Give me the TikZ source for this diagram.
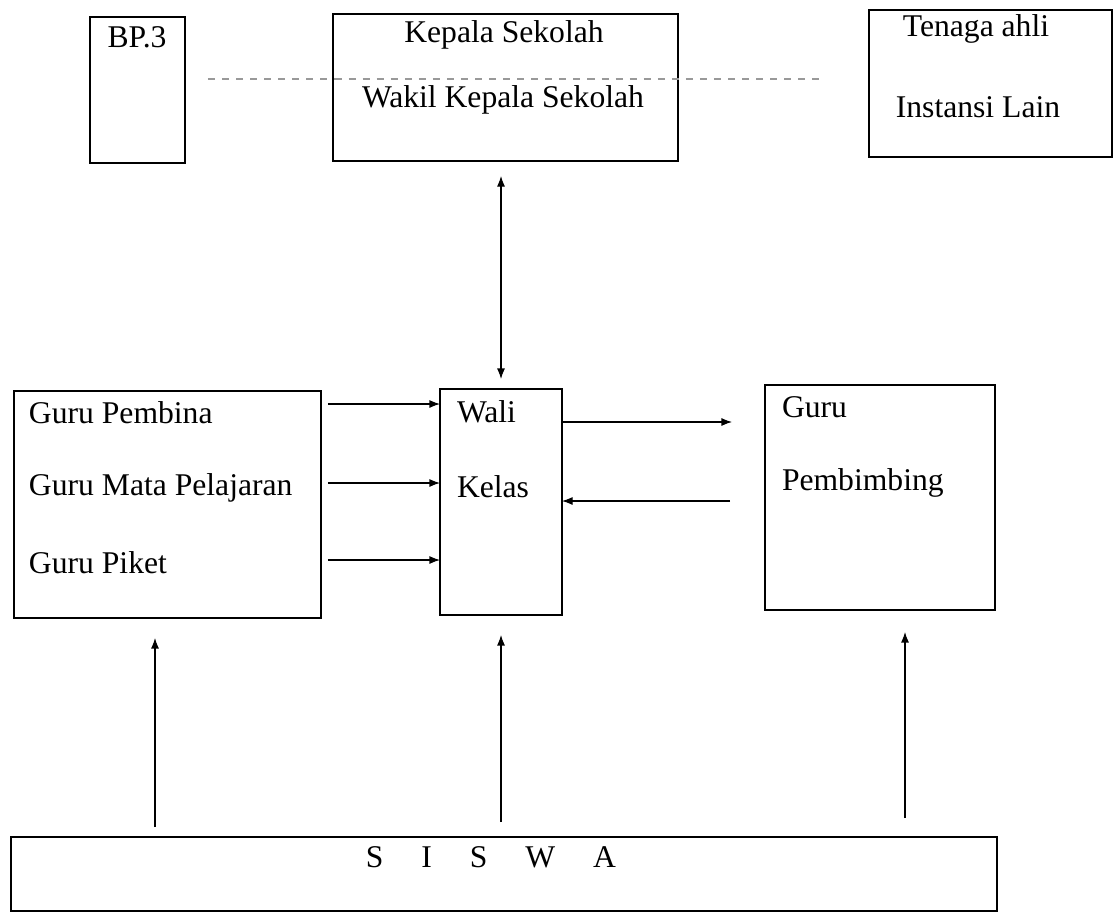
\documentclass[tikz,border=0pt]{standalone}
\usepackage{fontspec}
\setmainfont{Liberation Serif}
\usetikzlibrary{arrows.meta}

\begin{document}
\begin{tikzpicture}
        [
          x=0.02cm, y=-0.02cm,
          every node/.style={inner sep=0pt, outer sep=0pt, font=\fontsize{18}{22}\selectfont},
          box/.style={draw, line width=0.9pt, rectangle},
          lbl/.style={anchor=west},
          arr/.style={-{Latex[length=6pt,width=4.5pt]}, line width=0.6pt},
          dotline/.style={draw=gray!80, line width=0.9pt, dash pattern=on 4pt off 4pt}
        ]
        \useasboundingbox (0,0) rectangle (1115,916);

        % boxes
        \node[box, minimum width=1.9cm, minimum height=2.92cm] (bp) at (137.5,90) {};
        \node[box, minimum width=6.9cm, minimum height=2.94cm] (kepala) at (505.5,87.5) {};
        \node[box, minimum width=4.86cm, minimum height=2.94cm] (tenaga) at (990.5,83.5) {};
        \node[box, minimum width=6.14cm, minimum height=4.54cm] (guru) at (167.5,504.5) {};
        \node[box, minimum width=2.44cm, minimum height=4.52cm] (wali) at (501,502) {};
        \node[box, minimum width=4.6cm, minimum height=4.5cm] (pembimbing) at (880,497.5) {};
        \node[box, minimum width=19.72cm, minimum height=1.48cm] (siswa) at (504,874) {};

        % texts
        \node (bp-t) at (137,37) {BP.3};
        \node (kepala-t) at (504,35) {Kepala Sekolah};
        \node (wakil-t) at (503,100) {Wakil Kepala Sekolah};
        \node (tenaga-t) at (976,29) {Tenaga ahli};
        \node (instansi-t) at (978,107) {Instansi Lain};
        \node[lbl] (pembina-t) at (29,413) {Guru Pembina};
        \node[lbl] (mapel-t) at (29,488) {Guru Mata Pelajaran};
        \node[lbl] (piket-t) at (29,563) {Guru Piket};
        \node[lbl] (wali-t) at (457,412) {Wali};
        \node[lbl] (kelas-t) at (457,487) {Kelas};
        \node[lbl] (gurubk-t) at (782,407) {Guru};
        \node[lbl] (bk-t) at (782,483) {Pembimbing};
        \node (siswa-t) at (491,857) {S\hspace{1.2em}I\hspace{1.2em}S\hspace{1.2em}W\hspace{1.2em}A};

        % connectors
        \draw[dotline, shorten <=0.46cm, shorten >=0.98cm] (bp.east |- 0,79) -- (tenaga.west |- 0,79);
        \draw[arr, {Latex[length=6pt,width=4.5pt]}-{Latex[length=6pt,width=4.5pt]}, shorten <=0.3cm, shorten >=0.2cm]
          (wali.north |- kepala.south) -- (wali.north);
        \draw[arr, shorten <=0.14cm] (guru.east |- 0,404) -- (wali.west |- 0,404);
        \draw[arr, shorten <=0.14cm] (guru.east |- 0,483) -- (wali.west |- 0,483);
        \draw[arr, shorten <=0.14cm] (guru.east |- 0,560) -- (wali.west |- 0,560);
        \draw[arr, shorten >=0.66cm] (wali.east |- 0,422) -- (pembimbing.west |- 0,422);
        \draw[arr, shorten <=0.7cm] (pembimbing.west |- 0,501) -- (wali.east |- 0,501);
        \draw[arr, shorten <=0.2cm, shorten >=0.4cm] (siswa.north -| 155,0) -- (guru.south -| 155,0);
        \draw[arr, shorten <=0.3cm, shorten >=0.4cm] (siswa.north -| wali.south) -- (wali.south);
        \draw[arr, shorten <=0.38cm, shorten >=0.44cm] (siswa.north -| 905,0) -- (pembimbing.south -| 905,0);
\end{tikzpicture}
\end{document}
